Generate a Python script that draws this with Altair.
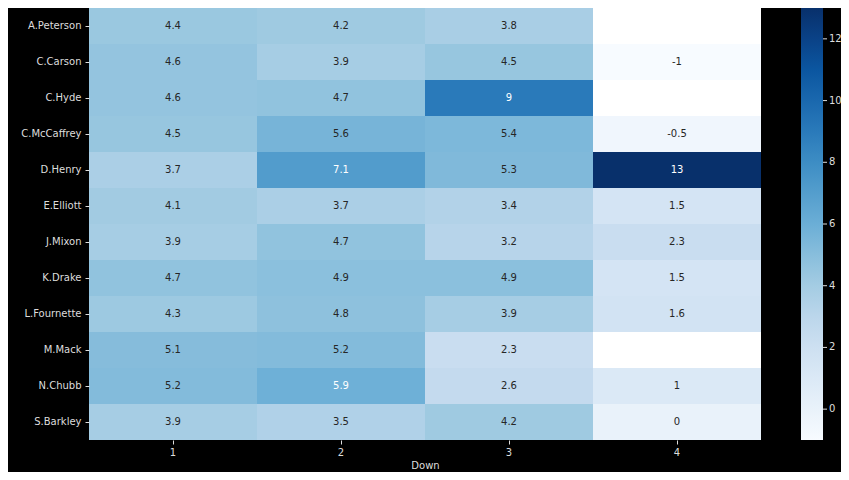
import altair as alt
import pandas as pd

players = ["A.Peterson", "C.Carson", "C.Hyde", "C.McCaffrey", "D.Henry", "E.Elliott",
           "J.Mixon", "K.Drake", "L.Fournette", "M.Mack", "N.Chubb", "S.Barkley"]
downs = ["1", "2", "3", "4"]
down1 = [4.4, 4.6, 4.6, 4.5, 3.7, 4.1, 3.9, 4.7, 4.3, 5.1, 5.2, 3.9]
down2 = [4.2, 3.9, 4.7, 5.6, 7.1, 3.7, 4.7, 4.9, 4.8, 5.2, 5.9, 3.5]
down3 = [3.8, 4.5, 9.0, 5.4, 5.3, 3.4, 3.2, 4.9, 3.9, 2.3, 2.6, 4.2]
down4 = [None, -1.0, None, -0.5, 13.0, 1.5, 2.3, 1.5, 1.6, None, 1.0, 0.0]
cbar_ticks = [0, 2, 4, 6, 8, 10, 12]

rows = []
for i, p in enumerate(players):
    for d, col in zip(downs, [down1, down2, down3, down4]):
        v = col[i]
        if v is None:
            continue
        lab = str(int(v)) if float(v).is_integer() else f"{v:g}"
        rows.append({"player": p, "down": d, "value": v, "label": lab})
df = pd.DataFrame(rows)

blues = ["#f7fbff", "#deebf7", "#c6dbef", "#9ecae1", "#6baed6",
         "#4292c6", "#2171b5", "#08519c", "#08306b"]
vmin, vmax = -1.0, 13.0
dom = [vmin + (vmax - vmin) * k / 8 for k in range(9)]

W, H = 672, 432
txt = "#dddddd"
LX = 712
LT = 22

x_enc = alt.X("down:O", sort=downs, title="Down",
              scale=alt.Scale(paddingInner=0, paddingOuter=0),
              axis=alt.Axis(labelAngle=0, domain=False, tickColor=txt, tickSize=4,
                            labelColor=txt, titleColor=txt, labelFontSize=10,
                            titleFontSize=10, titleFontWeight="normal",
                            labelFont="DejaVu Sans", titleFont="DejaVu Sans",
                            labelPadding=3, titlePadding=3))
y_enc = alt.Y("player:O", sort=players, title=None,
              scale=alt.Scale(paddingInner=0, paddingOuter=0),
              axis=alt.Axis(domain=False, tickColor=txt, tickSize=4, labelColor=txt,
                            labelFontSize=10, labelFont="DejaVu Sans", labelPadding=4))

bg = alt.Chart(pd.DataFrame({"a": [0]})).mark_rect(color="white").encode(
    x=alt.value(0), x2=alt.value(W), y=alt.value(0), y2=alt.value(H))

cscale = alt.Scale(domain=dom, range=blues, clamp=True)
base = alt.Chart(df)
rects = base.mark_rect().encode(
    x=x_enc, y=y_enc,
    color=alt.Color("value:Q", scale=cscale,
                    legend=alt.Legend(title=None, orient="none",
                                      legendX=LX, legendY=0,
                                      gradientLength=H, gradientThickness=LT,
                                      values=cbar_ticks,
                                      labelColor=txt, labelFontSize=10,
                                      labelFont="DejaVu Sans", labelOffset=6,
                                      gradientStrokeWidth=0, direction="vertical")))
labels = base.mark_text(fontSize=10, font="DejaVu Sans").encode(
    x=alt.X("down:O", sort=downs), y=alt.Y("player:O", sort=players),
    text="label:N",
    color=alt.condition("datum.value >= 5.8", alt.value("white"), alt.value("#262626")))

heat = alt.layer(bg, rects, labels)

ticks = alt.Chart(pd.DataFrame({"t": cbar_ticks})).mark_rule(color=txt, strokeWidth=1).encode(
    y=alt.Y("t:Q", scale=alt.Scale(domain=[vmin, vmax], nice=False, zero=False), axis=None),
    x=alt.value(LX + LT), x2=alt.value(LX + LT + 4))

chart = alt.layer(heat, ticks).resolve_scale(y="independent").properties(
    width=W, height=H, background="black",
    autosize=alt.AutoSizeParams(type="none"),
    padding={"left": 81, "top": 0, "right": 80, "bottom": 32},
).configure_view(stroke=None)

chart.save("out.html", embed_options={"renderer": "svg", "actions": False})
